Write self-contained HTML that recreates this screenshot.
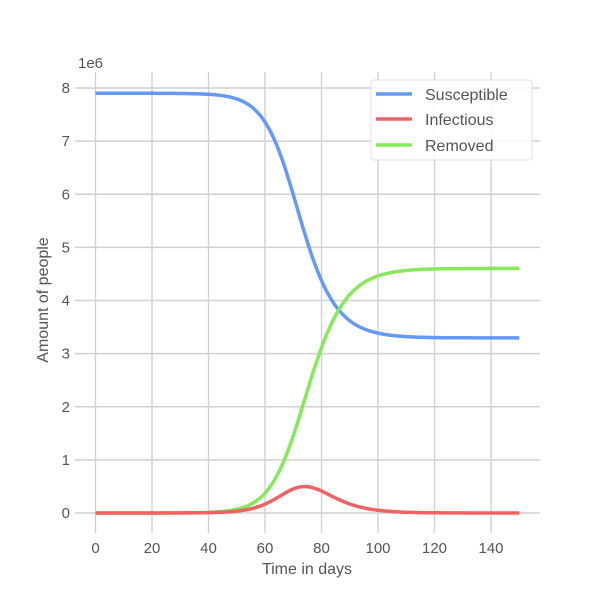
<!DOCTYPE html>
<html><head><meta charset="utf-8"><style>
body{margin:0;background:#fff}
svg text{font-family:"Liberation Sans",sans-serif;fill:#555}
</style></head><body>
<svg id="s" width="600" height="600" xmlns="http://www.w3.org/2000/svg">
<g stroke="#d0d0d0" stroke-width="1.4" id="grid"></g>
<g id="lab" font-size="15"></g>
<text x="78" y="68" font-size="15">1e6</text>
<text x="307" y="574" font-size="16" text-anchor="middle">Time in days</text>
<text transform="translate(48,300) rotate(-90)" font-size="16" text-anchor="middle">Amount of people</text>
<g id="curves" fill="none" stroke-width="3.5" stroke-linejoin="round"></g>
<rect x="371" y="80" width="161" height="80" rx="3" fill="#fff" fill-opacity="0.85" stroke="#e0e0e0"/>
<line x1="376" y1="94" x2="412" y2="94" stroke="#6699f5" stroke-width="3.5"/>
<line x1="376" y1="119" x2="412" y2="119" stroke="#f06262" stroke-width="3.5"/>
<line x1="376" y1="145" x2="412" y2="145" stroke="#86e85a" stroke-width="3.5"/>
<text x="425" y="100" font-size="16">Susceptible</text>
<text x="425" y="125" font-size="16">Infectious</text>
<text x="425" y="151" font-size="16">Removed</text>
</svg>
<script>
var X=t=>95.5+t*2.825, Y=v=>513-v*53.125;
var g=document.getElementById('grid'),l=document.getElementById('lab'),h='',L='';
for(var i=0;i<=8;i++){h+='<line x1="75" x2="540" y1="'+Y(i)+'" y2="'+Y(i)+'"/>';L+='<text x="70" y="'+(Y(i)+5)+'" text-anchor="end">'+i+'</text>';}
for(var t=0;t<=140;t+=20){h+='<line y1="72" y2="533" x1="'+X(t)+'" x2="'+X(t)+'"/>';L+='<text y="553" x="'+X(t)+'" text-anchor="middle">'+t+'</text>';}
g.innerHTML=h;l.innerHTML=L;
var N=7.9,gam=0.35,beta=0.525;
function sim(I0,rec){var S=N-I0,I=I0,R=0,dt=0.05,out=[],pk=0,pt=0;
for(var k=0;k<=3000;k++){var tt=k*dt;if(rec&&k%10==0)out.push([tt,S,I,R]);if(I>pk){pk=I;pt=tt;}
var f=function(s,i){return [-beta*s*i/N,beta*s*i/N-gam*i,gam*i]};
var a=f(S,I),b=f(S+a[0]*dt/2,I+a[1]*dt/2),c=f(S+b[0]*dt/2,I+b[1]*dt/2),d=f(S+c[0]*dt,I+c[1]*dt);
S+=dt/6*(a[0]+2*b[0]+2*c[0]+d[0]);I+=dt/6*(a[1]+2*b[1]+2*c[1]+d[1]);R+=dt/6*(a[2]+2*b[2]+2*c[2]+d[2]);}
return rec?out:pt;}
var lo=1e-10,hi=0.5;for(var j=0;j<60;j++){var m=Math.sqrt(lo*hi);if(sim(m,0)>74)lo=m;else hi=m;}
var d=sim(lo,1);
function p(idx,col){return '<path stroke="'+col+'" d="'+d.map((r,k)=>(k?'L':'M')+X(r[0]).toFixed(1)+','+Y(r[idx]).toFixed(1)).join('')+'"/>';}
document.getElementById('curves').innerHTML=p(1,'#6699f5')+p(3,'#86e85a')+p(2,'#f06262');
</script>
</body></html>
